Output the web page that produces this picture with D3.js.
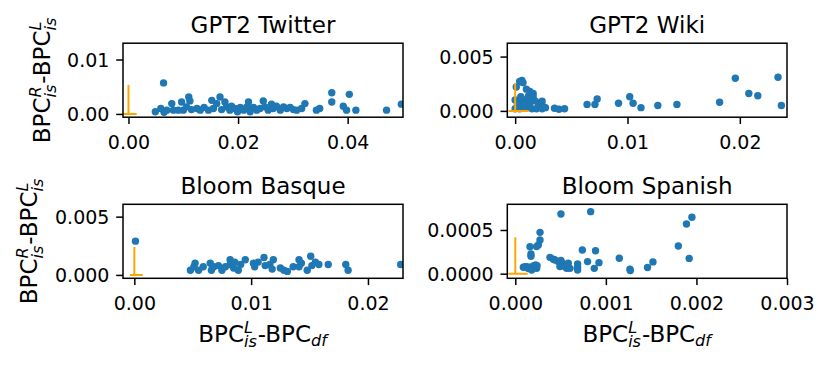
<!DOCTYPE html>
<html><head><meta charset="utf-8">
<script src="https://cdn.jsdelivr.net/npm/d3@7"></script>
<style>body{margin:0;background:#fff}svg{display:block}text{font-family:"DejaVu Sans",sans-serif;fill:#000}</style>
</head><body><svg id="c" width="830" height="365"></svg>
<script>
const titles = ["GPT2 Twitter", "GPT2 Wiki", "Bloom Basque", "Bloom Spanish"];

const gpt2Twitter = [
[0.0064,0.0057],[0.0049,0.0004],[0.0059,0.0010],[0.0065,0.0003],[0.0070,0.0007],[0.0079,0.0019],[0.0082,0.0007],
[0.0091,0.0007],[0.0097,0.0022],[0.0100,0.0007],[0.0106,0.0013],[0.0110,0.0031],[0.0112,0.0024],[0.0115,0.0008],
[0.0125,0.0010],[0.0131,0.0007],[0.0138,0.0012],[0.0146,0.0007],[0.0152,0.0025],[0.0155,0.0010],[0.0161,0.0019],
[0.0167,0.0031],[0.0170,0.0008],[0.0176,0.0022],[0.0179,0.0013],[0.0185,0.0007],[0.0188,0.0014],[0.0194,0.0010],
[0.0199,0.0004],[0.0204,0.0012],[0.0210,0.0007],[0.0216,0.0013],[0.0219,0.0022],[0.0222,0.0004],[0.0228,0.0012],
[0.0234,0.0007],[0.0240,0.0010],[0.0246,0.0024],[0.0249,0.0013],[0.0255,0.0007],[0.0261,0.0018],[0.0264,0.0010],
[0.0270,0.0014],[0.0277,0.0007],[0.0283,0.0013],[0.0289,0.0010],[0.0295,0.0012],[0.0301,0.0008],[0.0307,0.0007],
[0.0316,0.0010],[0.0322,0.0019],[0.0343,0.0007],[0.0349,0.0010],[0.0371,0.0039],[0.0371,0.0022],[0.0392,0.0014],
[0.0398,0.0007],[0.0403,0.0036],[0.0415,0.0007],[0.0471,0.0007],[0.0498,0.0018]
];

const gpt2Wiki = [
[0.0001,0.0022],[0.0004,0.0027],[0.0006,0.0028],[0.0007,0.0026],[0.0010,0.0020],[0.0013,0.0018],[0.0016,0.0016],
[0.0012,0.0014],[0.0016,0.0013],[0.0000,0.0010],[0.0003,0.0007],[0.0006,0.0009],[0.0009,0.0010],[0.0013,0.0007],
[0.0018,0.0009],[0.0021,0.0005],[0.0024,0.0009],[0.0025,0.0004],[0.0000,0.0002],[0.0004,0.0002],[0.0010,0.0003],
[0.0015,0.0002],[0.0019,0.0002],[0.0024,0.0002],[0.0027,0.0003],[0.0002,0.0005],[0.0008,0.0005],[0.0011,0.0011],
[0.0005,0.0013],[0.0035,0.00025],[0.0039,0.00015],[0.0044,0.0002],[0.0064,0.0006],[0.0071,0.0006],[0.0073,0.0011],
[0.0092,0.0007],[0.0102,0.0013],[0.0105,0.0007],[0.0112,0.0003],[0.0127,0.0005],[0.0144,0.0006],[0.0182,0.0008],
[0.0196,0.0030],[0.0208,0.0016],[0.0216,0.0014],[0.0234,0.0031],[0.0237,0.0005]
];

const bloomBasque = [
[0.0001,0.0029],[0.0048,0.0004],[0.0051,0.0007],[0.0052,0.0010],[0.0055,0.0004],[0.0059,0.0007],[0.0065,0.0010],
[0.0066,0.0004],[0.0068,0.0007],[0.0072,0.0008],[0.0075,0.0004],[0.0078,0.0007],[0.0082,0.0013],[0.0082,0.0009],
[0.0085,0.0006],[0.0086,0.0011],[0.0089,0.0004],[0.0091,0.0009],[0.0095,0.0013],[0.0102,0.0010],[0.0103,0.0007],
[0.0106,0.0011],[0.0111,0.0015],[0.0112,0.0008],[0.0116,0.0009],[0.0118,0.0005],[0.0119,0.0013],[0.0125,0.0006],
[0.0128,0.0004],[0.0131,0.0003],[0.0136,0.0007],[0.0141,0.0013],[0.0141,0.0007],[0.0143,0.0010],[0.0148,0.0004],
[0.0151,0.0016],[0.0152,0.0008],[0.0155,0.0011],[0.0158,0.0009],[0.0166,0.0009],[0.0181,0.0009],[0.0183,0.0004],
[0.0228,0.0009]
];

const bloomSpanish = [
[0.000089,0.000073],[0.000110,0.000080],[0.000125,0.000081],[0.000145,0.000060],[0.000162,0.000073],[0.000181,0.000042],
[0.000199,0.000088],[0.000215,0.000070],[0.000225,0.000100],[0.000236,0.000061],[0.000240,0.000090],
[0.000162,0.000309],[0.000173,0.000225],[0.000173,0.000200],[0.000254,0.000328],[0.000273,0.000385],[0.000273,0.000473],
[0.000235,0.000310],[0.000383,0.000187],[0.000420,0.000165],[0.000438,0.000157],[0.000475,0.000138],[0.000493,0.000081],
[0.000512,0.000126],[0.000530,0.000110],[0.000540,0.000090],[0.000555,0.000075],[0.000567,0.000061],[0.000585,0.000119],
[0.000604,0.000061],[0.000504,0.000683],[0.000504,0.000150],[0.000688,0.000111],[0.000688,0.000073],[0.000688,0.000042],
[0.000740,0.000271],[0.000798,0.000138],[0.000832,0.000710],[0.000886,0.000263],[0.000872,0.000061],[0.000924,0.000126],
[0.001148,0.000176],[0.001266,0.000050],[0.001270,0.000035],[0.001460,0.000070],[0.001520,0.000135],
[0.001800,0.000317],[0.001890,0.000568],[0.001950,0.000645],[0.001920,0.000175]
];

const series = [gpt2Twitter, gpt2Wiki, bloomBasque, bloomSpanish];

const xDomains = [[-0.001,0.0501],[-0.0007,0.0242],[-0.00097,0.0230],[-0.0000883,0.003]];
const yDomains = [[-0.0006,0.0130],[-0.00058,0.00623],[-0.00029,0.00606],[-0.0000529,0.000794]];

const xTicks = [[0,0.02,0.04],[0,0.01,0.02],[0,0.01,0.02],[0,0.001,0.002,0.003]];
const xTickLabels = [["0.00","0.02","0.04"],["0.00","0.01","0.02"],["0.00","0.01","0.02"],["0.000","0.001","0.002","0.003"]];
const yTicks = [[0,0.01],[0,0.005],[0,0.005],[0,0.0005]];
const yTickLabels = [["0.00","0.01"],["0.000","0.005"],["0.000","0.005"],["0.0000","0.0005"]];

// orange reference marks: vertical at x=0 from y=0 up, horizontal at y=0
const refVTop = [0.0053, 0.00255, 0.0024, 0.000416];
const refHSpan = [[-0.0009,0.0015],[-0.0006,0.0012],[-0.00037,0.00072],[-0.000077,0.000137]];

const yLabelParts = [{t:"BPC"},{sup:"R",sub:"is"},{t:"-BPC"},{sup:"L",sub:"is"}];
const xLabelParts = [{t:"BPC"},{sup:"L",sub:"is"},{t:"-BPC"},{sub:"df"}];

// layout
const boxes = [
  {x:123, y:43.2, w:280, h:74},
  {x:507.3, y:43.2, w:279.7, h:74},
  {x:123, y:204.3, w:280, h:74},
  {x:507.3, y:204.3, w:279.7, h:74}
];
const TICK_FS = 19, TITLE_FS = 23, LABEL_FS = 23;
const TL = 6.8, PAD = 6.8;

const svg = d3.select("#c");
const defs = svg.append("defs");

function mathLabel(parent, parts, fs){
  const g = parent.append("g");
  let x = 0;
  const ss = fs*0.7;
  parts.forEach(p=>{
    if(p.t !== undefined){
      const t = g.append("text").attr("x",x).attr("y",0).attr("font-size",fs).text(p.t);
      x += t.node().getComputedTextLength();
    } else {
      let w = 0;
      if(p.sup){
        const t = g.append("text").attr("x",x).attr("y",-fs*0.38).attr("font-size",ss).attr("font-style","italic").text(p.sup);
        w = Math.max(w, t.node().getComputedTextLength());
      }
      if(p.sub){
        const t = g.append("text").attr("x",x).attr("y",fs*(p.sup?0.25:0.2)).attr("font-size",ss).attr("font-style","italic").text(p.sub);
        w = Math.max(w, t.node().getComputedTextLength());
      }
      x += w + fs*0.04;
    }
  });
  const total = x;
  g.selectAll("text").attr("x", function(){ return +d3.select(this).attr("x") - total/2; });
  return g;
}

boxes.forEach((b,i)=>{
  const xs = d3.scaleLinear().domain(xDomains[i]).range([b.x, b.x+b.w]);
  const ys = d3.scaleLinear().domain(yDomains[i]).range([b.y+b.h, b.y]);

  const cid = "clip"+i;
  defs.append("clipPath").attr("id",cid).append("rect").attr("x",b.x).attr("y",b.y).attr("width",b.w).attr("height",b.h);

  const plot = svg.append("g").attr("clip-path",`url(#${cid})`);
  plot.selectAll("circle").data(series[i]).join("circle")
    .attr("cx",d=>xs(d[0])).attr("cy",d=>ys(d[1])).attr("r",3.7).attr("fill","#1f77b4");

  plot.append("line").attr("x1",xs(0)).attr("x2",xs(0)).attr("y1",ys(0)).attr("y2",ys(refVTop[i]))
    .attr("stroke","#ffa500").attr("stroke-width",2);
  plot.append("line").attr("x1",xs(refHSpan[i][0])).attr("x2",xs(refHSpan[i][1])).attr("y1",ys(0)).attr("y2",ys(0))
    .attr("stroke","#ffa500").attr("stroke-width",2);

  const xa = d3.axisBottom(xs).tickValues(xTicks[i]).tickFormat((d,k)=>xTickLabels[i][k]).tickSize(TL).tickPadding(PAD);
  const gx = svg.append("g").attr("transform",`translate(0,${b.y+b.h})`).call(xa);
  gx.select(".domain").remove();
  gx.selectAll("line").attr("stroke","#000").attr("stroke-width",1.5);
  gx.selectAll("text").attr("font-size",TICK_FS).attr("font-family","DejaVu Sans").attr("dy","0.95em").attr("fill","#000");

  const ya = d3.axisLeft(ys).tickValues(yTicks[i]).tickFormat((d,k)=>yTickLabels[i][k]).tickSize(TL).tickPadding(PAD);
  const gy = svg.append("g").attr("transform",`translate(${b.x},0)`).call(ya);
  gy.select(".domain").remove();
  gy.selectAll("line").attr("stroke","#000").attr("stroke-width",1.5);
  gy.selectAll("text").attr("font-size",TICK_FS).attr("font-family","DejaVu Sans").attr("dy","0.36em").attr("fill","#000");

  svg.append("rect").attr("x",b.x).attr("y",b.y).attr("width",b.w).attr("height",b.h)
    .attr("fill","none").attr("stroke","#000").attr("stroke-width",1.5);

  svg.append("text").attr("x",b.x+b.w/2).attr("y",b.y-10.5).attr("text-anchor","middle")
    .attr("font-size",TITLE_FS).text(titles[i]);
});

// y labels (left column)
mathLabel(svg, yLabelParts, LABEL_FS).attr("transform","translate(50,80) rotate(-90)");
mathLabel(svg, yLabelParts, LABEL_FS).attr("transform","translate(37,241) rotate(-90)");
// x labels (bottom row)
mathLabel(svg, xLabelParts, LABEL_FS).attr("transform",`translate(${boxes[2].x+boxes[2].w/2},341.5)`);
mathLabel(svg, xLabelParts, LABEL_FS).attr("transform",`translate(${boxes[3].x+boxes[3].w/2},341.5)`);
</script>
</body></html>
